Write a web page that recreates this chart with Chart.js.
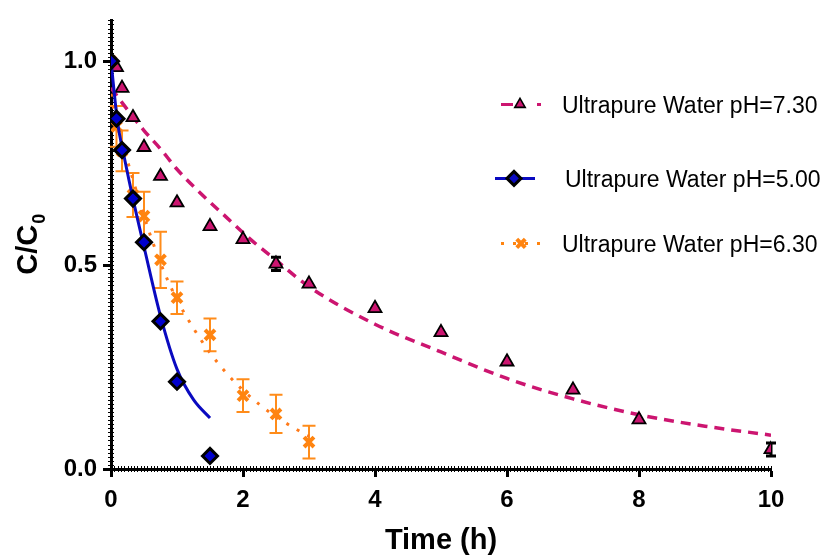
<!DOCTYPE html>
<html>
<head>
<meta charset="utf-8">
<script src="https://cdn.jsdelivr.net/npm/chart.js@4.4.0/dist/chart.umd.min.js"></script>
<style>
  html, body { margin: 0; padding: 0; background: #fff; }
</style>
</head>
<body>
<canvas id="chart" width="830" height="555"></canvas>
<script>
// Axis ticks
const timeTicks = [0, 2, 4, 6, 8, 10];
const ratioTicks = [0, 0.5, 1.0];

const seriesLabels = ['Ultrapure Water pH=7.30', 'Ultrapure Water pH=5.00', 'Ultrapure Water pH=6.30'];

// pH 7.30 — measured points and fitted curve
const ph73Times = [0, 0.083, 0.167, 0.333, 0.5, 0.75, 1, 1.5, 2, 2.5, 3, 4, 5, 6, 7, 8, 10];
const ph73Values = [1.0, 0.985, 0.934, 0.862, 0.789, 0.718, 0.653, 0.595, 0.563, 0.503, 0.454, 0.394, 0.335, 0.263, 0.194, 0.121, 0.048];
const ph73Errors = [0, 0, 0, 0, 0, 0, 0, 0, 0, 0.016, 0, 0, 0, 0, 0, 0, 0.016];
const ph73FitTimes = [0, 0.16, 0.5, 0.75, 1, 1.3, 1.75, 2.1, 2.5, 3, 4, 5, 6, 7, 8, 9, 10];
const ph73FitValues = [0.935, 0.90, 0.83, 0.785, 0.735, 0.685, 0.617, 0.565, 0.512, 0.447, 0.355, 0.287, 0.222, 0.172, 0.133, 0.105, 0.083];

// pH 5.00
const ph50Times = [0, 0.083, 0.167, 0.333, 0.5, 0.75, 1, 1.5];
const ph50Values = [1.0, 0.859, 0.782, 0.663, 0.556, 0.362, 0.214, 0.032];
const ph50FitTimes = [0, 0.1, 0.2, 0.35, 0.5, 0.75, 1.0, 1.25, 1.5];
const ph50FitValues = [1.0, 0.85, 0.765, 0.65, 0.545, 0.375, 0.245, 0.17, 0.125];

// pH 6.30
const ph63Times = [0, 0.083, 0.167, 0.333, 0.5, 0.75, 1, 1.5, 2, 2.5, 3];
const ph63Values = [1.0, 0.84, 0.78, 0.672, 0.62, 0.513, 0.42, 0.329, 0.180, 0.135, 0.066];
const ph63Errors = [0, 0.05, 0.05, 0.054, 0.06, 0.069, 0.04, 0.04, 0.04, 0.047, 0.04];
const ph63FitTimes = [0, 0.1, 0.25, 0.5, 0.75, 1, 1.25, 1.5, 1.75, 2, 2.25, 2.5, 2.75, 3];
const ph63FitValues = [0.92, 0.835, 0.755, 0.62, 0.505, 0.415, 0.345, 0.285, 0.235, 0.193, 0.158, 0.128, 0.103, 0.08];

const PINK = '#CC1570';
const BLUE = '#0A0AC0';
const ORANGE = '#FF8410';
const FONT = '"Liberation Sans", Arial, sans-serif';

function pts(xs, ys) {
    return xs.map((x, i) => ({ x: x, y: ys[i] }));
}

// vertical error bars with caps, drawn under the markers
const errorBars = {
    id: 'errorBars',
    beforeDatasetsDraw(chart) {
        const ctx = chart.ctx;
        const ys = chart.scales.y;
        chart.data.datasets.forEach((ds, i) => {
            if (!ds.errors) return;
            const meta = chart.getDatasetMeta(i);
            ctx.save();
            ctx.strokeStyle = ds.errorColor;
            ctx.lineWidth = ds.errorWidth;
            meta.data.forEach((pt, j) => {
                const e = ds.errors[j];
                if (!e) return;
                const v = ds.data[j].y;
                const top = ys.getPixelForValue(v + e);
                const bot = ys.getPixelForValue(v - e);
                const x = pt.x;
                const c = ds.capHalf;
                ctx.beginPath();
                ctx.moveTo(x, top); ctx.lineTo(x, bot);
                ctx.moveTo(x - c, top); ctx.lineTo(x + c, top);
                ctx.moveTo(x - c, bot); ctx.lineTo(x + c, bot);
                ctx.stroke();
            });
            ctx.restore();
        });
    }
};

// dense minor ticks along both axes
const minorTicks = {
    id: 'minorTicks',
    beforeDatasetsDraw(chart) {
        const ctx = chart.ctx;
        const xs = chart.scales.x, ys = chart.scales.y;
        const a = chart.chartArea;
        ctx.save();
        ctx.strokeStyle = '#000';
        ctx.lineWidth = 1;
        ctx.beginPath();
        for (let i = 0; i <= 200; i++) {
            const px = Math.round(xs.getPixelForValue(i * 0.05)) + 0.5;
            ctx.moveTo(px, a.bottom - 3); ctx.lineTo(px, a.bottom + 3);
        }
        for (let i = 0; i <= 110; i++) {
            const py = Math.round(ys.getPixelForValue(i * 0.01)) + 0.5;
            ctx.moveTo(a.left - 3, py); ctx.lineTo(a.left + 3, py);
        }
        ctx.stroke();
        ctx.restore();
    }
};

function drawMarker(ctx, style, r, x, y, fill, stroke, bw) {
    ctx.save();
    ctx.fillStyle = fill;
    ctx.strokeStyle = stroke;
    ctx.lineWidth = bw;
    Chart.helpers.drawPoint(ctx, { pointStyle: style, radius: r, rotation: 0, borderWidth: bw }, x, y);
    ctx.restore();
}

// axis titles and the legend inside the plot
const decorations = {
    id: 'decorations',
    afterDraw(chart) {
        const ctx = chart.ctx;
        const a = chart.chartArea;
        ctx.save();
        ctx.fillStyle = '#000';

        // x title
        ctx.font = 'bold 29px ' + FONT;
        ctx.textAlign = 'center';
        ctx.textBaseline = 'middle';
        ctx.fillText('Time (h)', (a.left + a.right) / 2, a.bottom + 72);

        // y title C/C0 with subscript
        ctx.save();
        ctx.translate(26, (a.top + a.bottom) / 2);
        ctx.rotate(-Math.PI / 2);
        ctx.textBaseline = 'alphabetic';
        ctx.textAlign = 'left';
        ctx.font = 'bold 29px ' + FONT;
        const w1 = ctx.measureText('C/C').width;
        ctx.font = 'bold 18px ' + FONT;
        const w2 = ctx.measureText('0').width;
        const start = -(w1 + w2) / 2;
        ctx.font = 'bold 29px ' + FONT;
        ctx.fillText('C/C', start, 11);
        ctx.font = 'bold 18px ' + FONT;
        ctx.fillText('0', start + w1 + 1, 19);
        ctx.restore();

        // legend
        const items = [
            { y: a.top + 84, tx: 562, x0: 501, x1: 542, mx: 520, color: PINK, dash: [12, 24, 4, 100], style: 'triangle', r: 6, fill: PINK, bw: 1.6 },
            { y: a.top + 158, tx: 565, x0: 495, x1: 535, mx: 514, color: BLUE, dash: [], style: 'rectRot', r: 7, fill: BLUE, bw: 3 },
            { y: a.top + 223, tx: 562, x0: 501, x1: 541, mx: 521, color: ORANGE, dash: [3, 9], style: 'crossRot', r: 6, fill: ORANGE, bw: 4 }
        ];
        items.forEach((it, i) => {
            ctx.save();
            ctx.strokeStyle = it.color;
            ctx.lineWidth = 3;
            ctx.setLineDash(it.dash);
            ctx.beginPath();
            ctx.moveTo(it.x0, it.y); ctx.lineTo(it.x1, it.y);
            ctx.stroke();
            ctx.restore();
            const stroke = it.style === 'crossRot' ? ORANGE : '#000';
            drawMarker(ctx, it.style, it.r, it.mx, it.y, it.fill, stroke, it.bw);
            ctx.fillStyle = '#000';
            ctx.font = '23px ' + FONT;
            ctx.textAlign = 'left';
            ctx.textBaseline = 'alphabetic';
            ctx.fillText(seriesLabels[i], it.tx, it.y + 9);
        });
        ctx.restore();
    }
};

const bgWhite = {
    id: 'bgWhite',
    beforeDraw(chart) {
        const ctx = chart.ctx;
        ctx.save();
        ctx.fillStyle = '#fff';
        ctx.fillRect(0, 0, chart.width, chart.height);
        ctx.restore();
    }
};

new Chart(document.getElementById('chart').getContext('2d'), {
    type: 'scatter',
    data: {
        datasets: [
            {
                label: seriesLabels[0],
                data: pts(ph73Times, ph73Values),
                showLine: false,
                pointStyle: 'triangle',
                pointRadius: 7.5,
                pointBackgroundColor: PINK,
                pointBorderColor: '#000',
                pointBorderWidth: 1.8,
                errors: ph73Errors, errorColor: '#000', errorWidth: 3, capHalf: 5,
                order: 4
            },
            {
                label: 'fit 7.30',
                data: pts(ph73FitTimes, ph73FitValues),
                showLine: true,
                borderColor: PINK,
                borderWidth: 3.5,
                borderDash: [10, 7],
                pointRadius: 0,
                cubicInterpolationMode: 'monotone',
                order: 5
            },
            {
                label: seriesLabels[1],
                data: pts(ph50Times, ph50Values),
                showLine: false,
                pointStyle: 'rectRot',
                pointRadius: 7.5,
                pointBackgroundColor: '#0000CC',
                pointBorderColor: '#000',
                pointBorderWidth: 3,
                order: 0
            },
            {
                label: 'fit 5.00',
                data: pts(ph50FitTimes, ph50FitValues),
                showLine: true,
                borderColor: BLUE,
                borderWidth: 3,
                pointRadius: 0,
                cubicInterpolationMode: 'monotone',
                order: 1
            },
            {
                label: seriesLabels[2],
                data: pts(ph63Times, ph63Values),
                showLine: false,
                pointStyle: 'crossRot',
                pointRadius: 7,
                pointBorderColor: ORANGE,
                pointBackgroundColor: ORANGE,
                pointBorderWidth: 4,
                errors: ph63Errors, errorColor: '#FF8C1A', errorWidth: 2, capHalf: 6.5,
                order: 2
            },
            {
                label: 'fit 6.30',
                data: pts(ph63FitTimes, ph63FitValues),
                showLine: true,
                borderColor: '#FF7A1A',
                borderWidth: 3,
                borderDash: [3, 9],
                pointRadius: 0,
                cubicInterpolationMode: 'monotone',
                order: 3
            }
        ]
    },
    options: {
        responsive: false,
        animation: false,
        layout: { padding: { left: 0, right: 59, top: 15, bottom: 0 } },
        plugins: {
            legend: { display: false },
            tooltip: { enabled: false }
        },
        scales: {
            x: {
                type: 'linear',
                min: 0,
                max: 10,
                afterBuildTicks: s => { s.ticks = timeTicks.map(v => ({ value: v })); },
                afterFit: s => { s.height = 86; },
                ticks: {
                    color: '#000',
                    font: { family: FONT, size: 24, weight: 'bold' },
                    padding: 9,
                    maxRotation: 0,
                    autoSkip: false,
                    callback: v => String(v)
                },
                grid: { drawOnChartArea: false, drawTicks: true, tickLength: 8, tickWidth: 3, tickColor: '#000' },
                border: { display: true, color: '#000', width: 3 }
            },
            y: {
                type: 'linear',
                min: 0,
                max: 1.1,
                afterBuildTicks: s => { s.ticks = ratioTicks.map(v => ({ value: v })); },
                afterFit: s => { s.width = 111; },
                ticks: {
                    color: '#000',
                    font: { family: FONT, size: 24, weight: 'bold' },
                    padding: 6,
                    autoSkip: false,
                    callback: v => v.toFixed(1)
                },
                grid: { drawOnChartArea: false, drawTicks: true, tickLength: 8, tickWidth: 3, tickColor: '#000' },
                border: { display: true, color: '#000', width: 3 }
            }
        }
    },
    plugins: [bgWhite, minorTicks, errorBars, decorations]
});
</script>
</body>
</html>
